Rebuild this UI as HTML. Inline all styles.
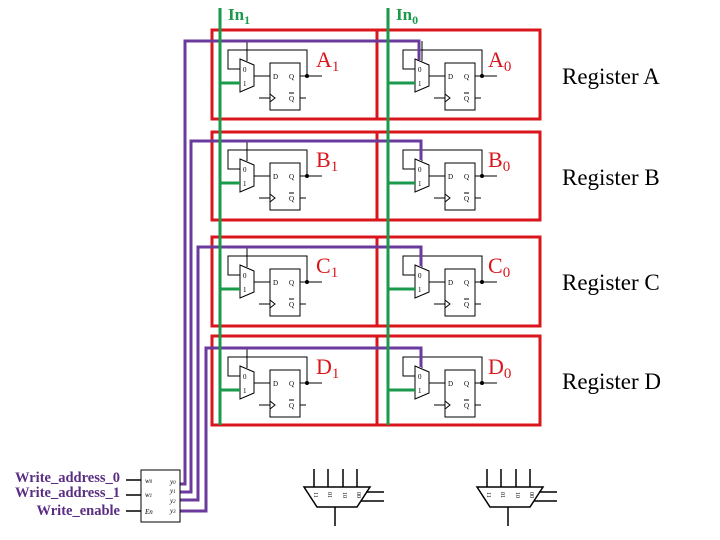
<!DOCTYPE html>
<html><head><style>
html,body{margin:0;padding:0;background:#fff;width:720px;height:540px;overflow:hidden}
svg{display:block}
</style></head><body>
<svg width="720" height="540" viewBox="0 0 720 540" xmlns="http://www.w3.org/2000/svg">
<defs>
<g id="cell" fill="none" stroke="#000" stroke-width="1">
  <polyline points="247,50 228,50 228,69 240,69"/>
  <polyline points="247,50 307,50 307,76"/>
  <polygon points="240,59 254,65 254,86 240,92" fill="#fff"/>
  <line x1="254" y1="76" x2="270" y2="76"/>
  <rect x="270" y="63" width="30" height="47" fill="#fff"/>
  <line x1="300" y1="76" x2="322" y2="76"/>
  <circle cx="307" cy="76" r="1.5" fill="#000"/>
  <line x1="259" y1="98" x2="270" y2="98"/>
  <polyline points="270,94 275,98 270,102"/>
  <line x1="300" y1="98" x2="306" y2="98"/>
  <g font-family="Liberation Serif,serif" font-size="7" fill="#000" stroke="none">
    <text x="243" y="72">0</text><text x="243" y="86">1</text>
    <text x="273" y="79">D</text><text x="289" y="79">Q</text>
    <text x="289" y="101">Q</text>
  </g>
  <line x1="289" y1="93" x2="294" y2="93"/>
</g>
</defs>

<g fill="none" stroke="#d9161c" stroke-width="3">
  <rect x="212" y="30" width="165" height="89"/><rect x="377" y="30" width="163" height="89"/>
  <rect x="212" y="132" width="165" height="88"/><rect x="377" y="132" width="163" height="88"/>
  <rect x="212" y="237" width="165" height="89"/><rect x="377" y="237" width="163" height="89"/>
  <rect x="212" y="336" width="165" height="89"/><rect x="377" y="336" width="163" height="89"/>
</g>

<use href="#cell"/>
<use href="#cell" transform="translate(175,0)"/>
<use href="#cell" transform="translate(0,100)"/>
<use href="#cell" transform="translate(175,100)"/>
<use href="#cell" transform="translate(0,206)"/>
<use href="#cell" transform="translate(175,206)"/>
<use href="#cell" transform="translate(0,307)"/>
<use href="#cell" transform="translate(175,307)"/>

<g stroke="#000" stroke-width="1">
  <line x1="247" y1="41" x2="247" y2="61"/><line x1="422" y1="41" x2="422" y2="61"/>
  <line x1="247" y1="141" x2="247" y2="161"/><line x1="422" y1="141" x2="422" y2="161"/>
  <line x1="247" y1="247" x2="247" y2="267"/><line x1="422" y1="247" x2="422" y2="267"/>
  <line x1="247" y1="348" x2="247" y2="368"/><line x1="422" y1="348" x2="422" y2="368"/>
</g>

<g fill="none" stroke="#6a3a9c" stroke-width="3">
  <polyline points="180,484 185,484 185,41 419,41 419,60"/>
  <polyline points="180,492 191,492 191,141 421,141 421,160"/>
  <polyline points="180,500 198,500 198,247 421,247 421,266"/>
  <polyline points="180,511 206,511 206,348 421,348 421,367"/>
</g>

<g fill="none" stroke="#1a9a4a" stroke-width="3">
  <line x1="220" y1="8" x2="220" y2="425"/>
  <line x1="388" y1="8" x2="388" y2="425"/>
  <line x1="220" y1="83" x2="240" y2="83"/><line x1="388" y1="83" x2="415" y2="83"/>
  <line x1="220" y1="183" x2="240" y2="183"/><line x1="388" y1="183" x2="415" y2="183"/>
  <line x1="220" y1="289" x2="240" y2="289"/><line x1="388" y1="289" x2="415" y2="289"/>
  <line x1="220" y1="390" x2="240" y2="390"/><line x1="388" y1="390" x2="415" y2="390"/>
</g>

<g font-family="Liberation Serif,serif" font-weight="bold" fill="#1a9a4a" font-size="17">
  <text x="228" y="20">In<tspan font-size="12" dy="4">1</tspan></text>
  <text x="396" y="20">In<tspan font-size="12" dy="4">0</tspan></text>
</g>
<g font-family="Liberation Serif,serif" fill="#d9161c" font-size="22">
  <text x="316" y="67">A<tspan font-size="15" dy="4">1</tspan></text>
  <text x="488" y="67">A<tspan font-size="15" dy="4">0</tspan></text>
  <text x="316" y="167">B<tspan font-size="15" dy="4">1</tspan></text>
  <text x="488" y="167">B<tspan font-size="15" dy="4">0</tspan></text>
  <text x="316" y="273">C<tspan font-size="15" dy="4">1</tspan></text>
  <text x="488" y="273">C<tspan font-size="15" dy="4">0</tspan></text>
  <text x="316" y="374">D<tspan font-size="15" dy="4">1</tspan></text>
  <text x="488" y="374">D<tspan font-size="15" dy="4">0</tspan></text>
</g>
<g font-family="Liberation Serif,serif" fill="#000" font-size="23">
  <text x="562" y="84">Register A</text>
  <text x="562" y="185">Register B</text>
  <text x="562" y="290">Register C</text>
  <text x="562" y="389">Register D</text>
</g>

<g stroke="#000" stroke-width="1.5" fill="none">
  <line x1="126" y1="480" x2="141" y2="480"/>
  <line x1="126" y1="495" x2="141" y2="495"/>
  <line x1="126" y1="511" x2="141" y2="511"/>
</g>
<rect x="141" y="470" width="39" height="52" fill="#fff" stroke="#000" stroke-width="1"/>
<g font-family="Liberation Serif,serif" font-style="italic" font-size="7" fill="#000">
  <text x="145" y="483">w<tspan font-size="5">0</tspan></text>
  <text x="145" y="497">w<tspan font-size="5">1</tspan></text>
  <text x="145" y="514">En</text>
  <text x="170" y="484">y<tspan font-size="5">0</tspan></text>
  <text x="170" y="493">y<tspan font-size="5">1</tspan></text>
  <text x="170" y="503">y<tspan font-size="5">2</tspan></text>
  <text x="170" y="513">y<tspan font-size="5">3</tspan></text>
</g>
<g font-family="Liberation Serif,serif" fill="#5a2d82" font-size="14.5" font-weight="bold" text-anchor="end">
  <text x="120" y="482">Write_address_0</text>
  <text x="120" y="497">Write_address_1</text>
  <text x="120" y="515">Write_enable</text>
</g>

<g id="om" stroke="#000" stroke-width="1.5" fill="none">
  <line x1="314" y1="469" x2="314" y2="487"/><line x1="328" y1="469" x2="328" y2="487"/>
  <line x1="343" y1="469" x2="343" y2="487"/><line x1="357" y1="469" x2="357" y2="487"/>
  <polygon points="304,487 370,487 357,507 317,507" fill="#fff"/>
  <line x1="335" y1="507" x2="335" y2="526"/>
  <line x1="366" y1="492" x2="384" y2="492"/><line x1="361" y1="501" x2="384" y2="501"/>
</g>
<use href="#om" transform="translate(173,0)"/>
<g font-family="Liberation Serif,serif" font-size="6" fill="#000">
  <text x="312" y="494" transform="rotate(90 314 494)">11</text>
  <text x="326" y="494" transform="rotate(90 328 494)">01</text>
  <text x="341" y="494" transform="rotate(90 343 494)">10</text>
  <text x="355" y="494" transform="rotate(90 357 494)">00</text>
  <text x="485" y="494" transform="rotate(90 487 494)">11</text>
  <text x="499" y="494" transform="rotate(90 501 494)">01</text>
  <text x="514" y="494" transform="rotate(90 516 494)">10</text>
  <text x="528" y="494" transform="rotate(90 530 494)">00</text>
</g>
</svg>
</body></html>
